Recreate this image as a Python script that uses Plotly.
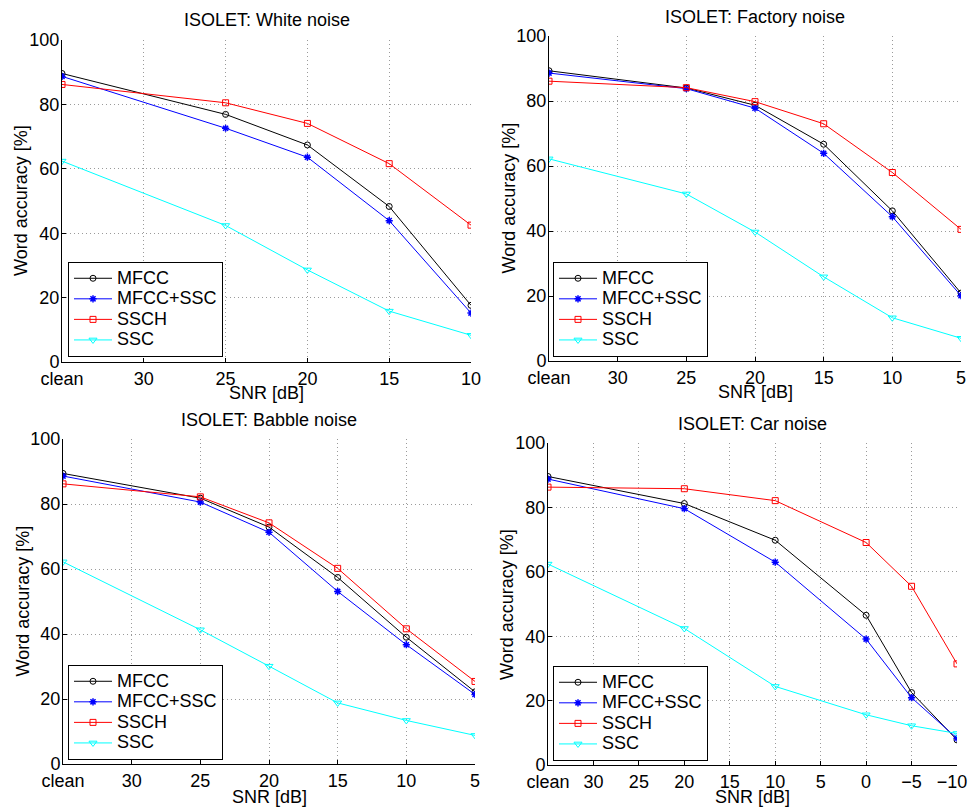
import plotly.graph_objects as go

W, H = 968, 809

series_names = ["MFCC", "MFCC+SSC", "SSCH", "SSC"]
series_colors = ["#000000", "#0000ff", "#ff0000", "#00ffff"]
series_symbols = ["circle-open", "asterisk-open", "square-open", "triangle-down-open"]
series_sizes = [6, 6, 6, 7]

# --- White noise ---
white_snr = ["clean", 25, 20, 15, 10]
white_mfcc = [89.6, 76.9, 67.4, 48.3, 17.6]
white_mfcc_ssc = [88.7, 72.6, 63.6, 43.9, 15.2]
white_ssch = [86.2, 80.5, 74.1, 61.6, 42.5]
white_ssc = [62.4, 42.4, 28.6, 15.8, 8.3]

# --- Factory noise ---
factory_snr = ["clean", 25, 20, 15, 10, 5]
factory_mfcc = [89.3, 84.0, 78.7, 66.7, 46.2, 20.9]
factory_mfcc_ssc = [88.6, 83.8, 77.8, 63.9, 44.4, 20.1]
factory_ssch = [86.1, 84.1, 79.8, 73.0, 58.0, 40.5]
factory_ssc = [62.2, 51.4, 39.7, 25.9, 13.3, 7.0]

# --- Babble noise ---
babble_snr = ["clean", 25, 20, 15, 10, 5]
babble_mfcc = [89.4, 81.8, 72.9, 57.4, 39.0, 22.2]
babble_mfcc_ssc = [88.6, 80.6, 71.3, 53.1, 36.7, 21.4]
babble_ssch = [86.2, 82.2, 74.2, 60.2, 41.6, 25.4]
babble_ssc = [62.2, 41.3, 30.1, 18.8, 13.4, 8.8]

# --- Car noise ---
car_snr = ["clean", 20, 10, 0, -5, -10]
car_mfcc = [89.6, 81.2, 69.8, 46.5, 22.5, 7.8]
car_mfcc_ssc = [88.8, 79.6, 63.0, 39.1, 20.9, 8.3]
car_ssch = [86.3, 85.8, 82.1, 69.1, 55.5, 31.4]
car_ssc = [62.4, 42.4, 24.4, 15.6, 12.2, 9.8]

# tick labels
ticks_white = ["clean", "30", "25", "20", "15", "10"]
ticks_factory = ["clean", "30", "25", "20", "15", "10", "5"]
ticks_babble = ["clean", "30", "25", "20", "15", "10", "5"]
ticks_car = ["clean", "30", "25", "20", "15", "10", "5", "0", "\u22125", "\u221210"]
y_ticks = [0, 20, 40, 60, 80, 100]

titles = ["ISOLET: White noise", "ISOLET: Factory noise",
          "ISOLET: Babble noise", "ISOLET: Car noise"]

CLEAN_POS = 35


def pos(v):
    return CLEAN_POS if v == "clean" else v


def tick_pos(lbl):
    return CLEAN_POS if lbl == "clean" else float(lbl.replace("\u2212", "-"))


panels = [
    dict(snr=white_snr, data=[white_mfcc, white_mfcc_ssc, white_ssch, white_ssc],
         ticks=ticks_white, px=(62, 471), py=(40, 362), title_y=20,
         leg=(68, 357), xlab_y=393),
    dict(snr=factory_snr, data=[factory_mfcc, factory_mfcc_ssc, factory_ssch, factory_ssc],
         ticks=ticks_factory, px=(549, 961), py=(36, 361), title_y=17,
         leg=(553, 357), xlab_y=392),
    dict(snr=babble_snr, data=[babble_mfcc, babble_mfcc_ssc, babble_ssch, babble_ssc],
         ticks=ticks_babble, px=(63, 475), py=(439, 764), title_y=420,
         leg=(68, 760), xlab_y=797),
    dict(snr=car_snr, data=[car_mfcc, car_mfcc_ssc, car_ssch, car_ssc],
         ticks=ticks_car, px=(548, 957), py=(443, 765), title_y=424,
         leg=(553, 761), xlab_y=797),
]

FONT = "Liberation Sans, Arial, Helvetica, sans-serif"
FS = 18
LEG_FS = 13.5

fig = go.Figure()
annotations = []
layout = dict(
    width=W, height=H, margin=dict(l=0, r=0, t=0, b=0, autoexpand=False),
    paper_bgcolor="white", plot_bgcolor="white",
    font=dict(family=FONT, size=FS, color="black"),
)

for i, p in enumerate(panels):
    k = "" if i == 0 else str(i + 1)
    xa, ya = "x" + k, "y" + k
    legname = "legend" + k
    xs = [pos(v) for v in p["snr"]]
    for j, name in enumerate(series_names):
        fig.add_trace(go.Scatter(
            x=xs, y=p["data"][j],
            name='<span style="font-size:%dpx">%s</span>' % (FS, name),
            mode="lines+markers",
            xaxis=xa, yaxis=ya, legend=legname,
            line=dict(color=series_colors[j], width=1),
            marker=dict(symbol=series_symbols[j], size=series_sizes[j],
                        color=series_colors[j],
                        line=dict(color=series_colors[j], width=1.5 if j == 1 else 1)),
        ))
    x0, x1 = p["px"]
    y0, y1 = p["py"]
    tv = [tick_pos(t) for t in p["ticks"]]
    # keep the last (rightmost) label inside the page, like the original
    tt = list(p["ticks"])
    if len(tt[-1]) > 2:
        tt[-1] = tt[-1] + "\u00a0\u00a0"
    common = dict(
        showline=True, linecolor="black", linewidth=1, mirror=False,
        ticks="inside", ticklen=4, tickcolor="black", tickwidth=1,
        showgrid=True, gridcolor="#9a9a9a", griddash="1px,3px", gridwidth=1,
        zeroline=False, fixedrange=True, automargin=False,
        ticklabeloverflow="allow",
        tickfont=dict(size=FS, family=FONT, color="black"),
    )
    layout["xaxis" + k] = dict(
        domain=[x0 / W, x1 / W], anchor=ya,
        range=[max(tv), min(tv)], tickmode="array", tickvals=tv, ticktext=tt,
        **common,
    )
    layout["yaxis" + k] = dict(
        domain=[1 - y1 / H, 1 - y0 / H], anchor=xa,
        range=[0, 100], tickmode="array", tickvals=y_ticks,
        ticklabelstandoff=-2,
        **common,
    )
    lx, ly = p["leg"]
    layout[legname] = dict(
        x=lx / W, y=1 - ly / H, xanchor="left", yanchor="bottom",
        xref="paper", yref="paper",
        bgcolor="white", bordercolor="black", borderwidth=1,
        font=dict(size=LEG_FS, family=FONT, color="black"),
        itemwidth=38, tracegroupgap=0,
    )
    cx = (x0 + x1) / 2
    annotations.append(dict(text=titles[i], x=cx / W, y=1 - p["title_y"] / H,
                            xref="paper", yref="paper", showarrow=False,
                            xanchor="center", yanchor="middle",
                            font=dict(size=FS, family=FONT, color="black")))
    annotations.append(dict(text="SNR [dB]", x=cx / W, y=1 - p["xlab_y"] / H,
                            xref="paper", yref="paper", showarrow=False,
                            xanchor="center", yanchor="middle",
                            font=dict(size=FS, family=FONT, color="black")))
    annotations.append(dict(text="Word accuracy [%]", x=(x0 - 41) / W,
                            y=1 - ((y0 + y1) / 2) / H,
                            xref="paper", yref="paper", showarrow=False,
                            textangle=-90, xanchor="center", yanchor="middle",
                            font=dict(size=FS, family=FONT, color="black")))

layout["annotations"] = annotations
fig.update_layout(**layout)
fig.write_html("out.html")
